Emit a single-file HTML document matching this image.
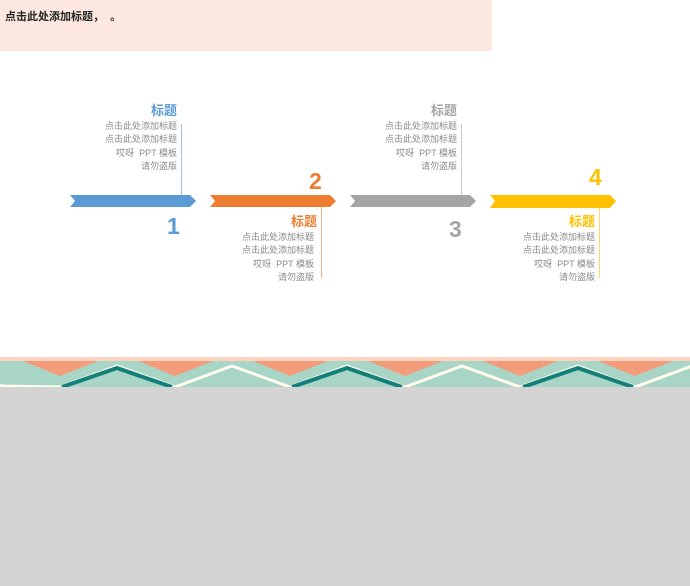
<!DOCTYPE html>
<html><head><meta charset="utf-8"><style>
body{margin:0;width:690px;height:586px;position:relative;background:#fff;font-family:"Liberation Sans","Noto Sans CJK SC",sans-serif;overflow:hidden}
.a{position:absolute}
.t{position:absolute;text-align:right;font-size:9px;color:#8a8a8a;line-height:13.3px;white-space:nowrap}
.t b{display:block;font-size:13px;line-height:16px;margin-bottom:1px}
.n{position:absolute;font-weight:bold;font-size:23px;line-height:23px}
</style></head><body>
<div class="a" style="left:0;top:0;width:492px;height:51px;background:#fde8df"></div>
<div class="a" style="left:5px;top:8px;font-size:11px;font-weight:bold;color:#222">点击此处添加标题，&nbsp;&nbsp;。</div>

<svg class="a" style="left:0;top:0" width="690" height="586">
<polygon points="70,195 190,195 196,201 190,207 70,207 75,201" fill="#5b9bd5"/>
<polygon points="210,195 330,195 336,201 330,207 210,207 215,201" fill="#ed7d31"/>
<polygon points="350,195 470,195 476,201 470,207 350,207 355,201" fill="#a5a5a5"/>
<polygon points="490,195 610,195 616,201 610,208 490,208 495,201" fill="#ffc000"/>
<line x1="181.5" y1="124" x2="181.5" y2="195" stroke="#9dc3e6" stroke-width="1"/>
<line x1="321.5" y1="207" x2="321.5" y2="278" stroke="#f4b183" stroke-width="1"/>
<line x1="461.5" y1="124" x2="461.5" y2="195" stroke="#c9c9c9" stroke-width="1"/>
<line x1="599.5" y1="208" x2="599.5" y2="278" stroke="#ffd966" stroke-width="1"/>
<rect x="0" y="357" width="690" height="30" fill="#a8d5c5"/>
<rect x="0" y="357" width="690" height="4" fill="#fbd3bf"/>
<g fill="#f39c7a">
<polygon points="23,361 98,361 60,376"/><polygon points="138,361 213,361 175,376"/>
<polygon points="253,361 328,361 290,376"/><polygon points="368,361 443,361 405,376"/>
<polygon points="483,361 558,361 520,376"/><polygon points="598,361 673,361 635,376"/>
</g>
<polyline points="-58,364 2,386 60,387 117,366 175,387 232,366 290,387 347,366 405,387 462,366 520,387 578,366 635,387 692,366" fill="none" stroke="#fffbee" stroke-width="3"/>
<g fill="none" stroke="#127f7a" stroke-width="4">
<polyline points="62,387 117,368 172,387"/><polyline points="292,387 347,368 402,387"/><polyline points="523,387 578,368 633,387"/>
</g>
<rect x="0" y="387" width="690" height="199" fill="#d4d4d4"/>
</svg>

<div class="t" style="right:513px;top:103px"><b style="color:#5b9bd5">标题</b>点击此处添加标题<br>点击此处添加标题<br>哎呀&nbsp; PPT 模板<br>请勿盗版</div>
<div class="t" style="right:376px;top:214px"><b style="color:#ed7d31;margin-right:-3px">标题</b>点击此处添加标题<br>点击此处添加标题<br>哎呀&nbsp; PPT 模板<br>请勿盗版</div>
<div class="t" style="right:233px;top:103px"><b style="color:#a5a5a5">标题</b>点击此处添加标题<br>点击此处添加标题<br>哎呀&nbsp; PPT 模板<br>请勿盗版</div>
<div class="t" style="right:95px;top:214px"><b style="color:#ffc000">标题</b>点击此处添加标题<br>点击此处添加标题<br>哎呀&nbsp; PPT 模板<br>请勿盗版</div>

<div class="n" style="left:167px;top:215px;color:#5b9bd5">1</div>
<div class="n" style="left:309px;top:170px;color:#ed7d31">2</div>
<div class="n" style="left:449px;top:218px;color:#a5a5a5">3</div>
<div class="n" style="left:589px;top:166px;color:#ffc000">4</div>
</body></html>
